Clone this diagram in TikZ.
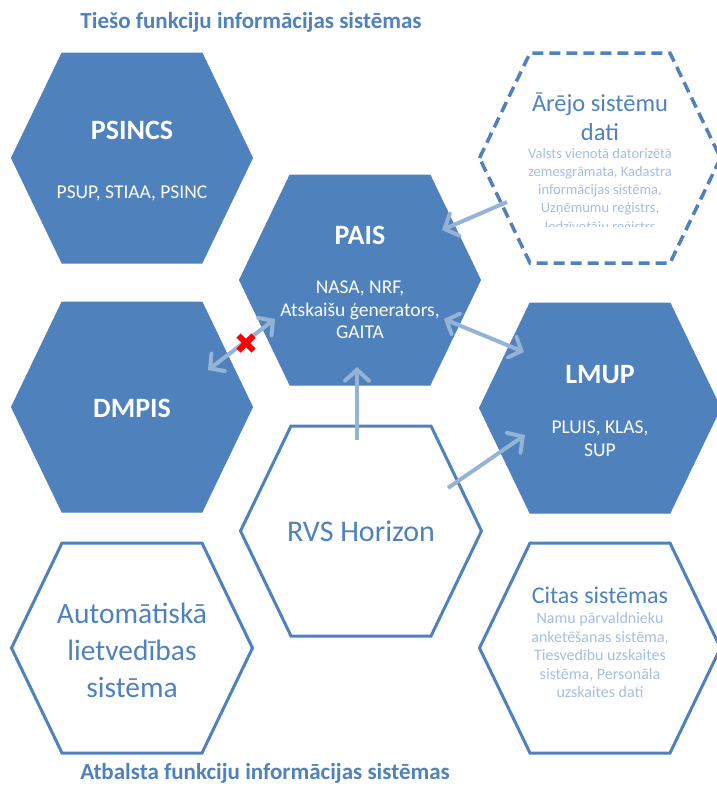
\documentclass[tikz,border=0pt]{standalone}
\usepackage{fontspec}
\setmainfont{Carlito}
\usetikzlibrary{arrows.meta,calc}
\definecolor{hexblue}{HTML}{4F81BD}
\definecolor{arrowc}{HTML}{95B3D7}
\definecolor{paletext}{HTML}{A5BFDF}
\newcommand\hexpath[2]{\path[#2] (#1) ++(-120.5,0) -- ++(50.5,-105) -- ++(140,0) -- ++(50.5,105) -- ++(-50.5,105) -- ++(-140,0) -- cycle;}
\newcommand\fs[2]{\fontsize{#1}{#2}\selectfont}
\tikzset{
  filledhex/.style={fill=hexblue, draw=hexblue, line width=1pt},
  outlinehex/.style={draw=hexblue, line width=3pt, line join=miter},
  dashhex/.style={draw=hexblue, line width=3.5pt, dash pattern=on 11pt off 6pt},
  wtitle/.style={text=white, font=\bfseries\fs{28}{30}, align=center, inner sep=0},
  wsub/.style={text=white, font=\fs{19.5}{22.5}, align=center, inner sep=0},
  btitle/.style={text=hexblue, align=center, inner sep=0},
  psub/.style={text=paletext, font=\fs{14.5}{18.2}, align=center, inner sep=0},
  conn/.style={draw=arrowc, line width=4pt, -{Straight Barb[length=11pt,width=24pt,line cap=round]}},
  biconn/.style={draw=arrowc, line width=4pt, {Straight Barb[length=10pt,width=22pt,line cap=round]}-{Straight Barb[length=10pt,width=22pt,line cap=round]}},
  redx/.style={draw=red, line width=6pt},
  caption/.style={text=hexblue, font=\bfseries\fs{23}{26}, inner sep=0}
}
\begin{document}
\begin{tikzpicture}[x=1pt,y=-1pt]
\useasboundingbox (0,0) rectangle (717,787);
% hexagon centres
\coordinate (psincs) at (132,158);
\coordinate (dmpis) at (132,407);
\coordinate (auto) at (132,648);
\coordinate (pais) at (360,280);
\coordinate (rvs) at (361,531);
\coordinate (ext) at (600,158);
\coordinate (lmup) at (600,408);
\coordinate (citas) at (600,648);

\hexpath{psincs}{filledhex}
\hexpath{dmpis}{filledhex}
\hexpath{pais}{filledhex}
\hexpath{lmup}{filledhex}
\hexpath{rvs}{outlinehex}
\hexpath{auto}{outlinehex}
\hexpath{citas}{outlinehex}
\hexpath{ext}{dashhex}

% captions
\node[caption] (topcap) at (251,22) {Tiešo funkciju informācijas sistēmas};
\node[caption] (botcap) at (265,773) {Atbalsta funkciju informācijas sistēmas};

% PSINCS
\node[wtitle] (psincsT) at (132,130) {PSINCS};
\node[wsub] (psincsS) at (132,193) {PSUP, STIAA, PSINC};
% DMPIS
\node[wtitle] (dmpisT) at (132,408) {DMPIS};
% PAIS
\node[wtitle] (paisT) at (360,235) {PAIS};
\node[wsub] (paisS) at (360,310) {NASA, NRF,\\Atskaišu ģenerators,\\GAITA};
% LMUP
\node[wtitle] (lmupT) at (600,375) {LMUP};
\node[wsub] (lmupS) at (600,438.5) {PLUIS, KLAS,\\SUP};
% RVS Horizon
\node[btitle, font=\fs{30}{32}] (rvsT) at (361,531) {RVS Horizon};
% Automatiska
\node[btitle, font=\fs{29.5}{37}] (autoT) at (132,650) {Automātiskā\\lietvedības\\sistēma};
% Arejo
\node[btitle, font=\fs{24.5}{29}] (extT) at (600,117) {Ārējo sistēmu\\dati};
\begin{scope}
\clip (470,140) rectangle (720,226.5);
\node[psub] (extS) at (600,191) {Valsts vienotā datorizētā\\zemesgrāmata, Kadastra\\informācijas sistēma,\\Uzņēmumu reģistrs,\\Iedzīvotāju reģistrs};
\end{scope}
% Citas
\node[btitle, font=\fs{24}{26}] (citasT) at (600,595) {Citas sistēmas};
\node[psub, font=\fs{16}{18.5}] (citasS) at (600,655) {Namu pārvaldnieku\\anketēšanas sistēma,\\Tiesvedību uzskaites\\sistēma, Personāla\\uzskaites dati};

% connector end points
\coordinate (extA) at (507,202);
\coordinate (paisA) at (442,230);
\coordinate (paisB) at (444,319);
\coordinate (lmupB) at (524,352);
\coordinate (rvsC) at (357,440);
\coordinate (paisC) at (357,367);
\coordinate (rvsD) at (448,488);
\coordinate (lmupD) at (525,435);
\coordinate (paisE) at (275,319);
\coordinate (dmpisE) at (208,370);
\coordinate (nox) at (246,343);

\draw[conn] (extA) -- (paisA);
\draw[biconn] (paisB) -- (lmupB);
\draw[conn] (rvsC) -- (paisC);
\draw[conn] (rvsD) -- (lmupD);
\draw[biconn] (dmpisE) -- (paisE);
\draw[redx] ($(nox)+(-7.5,-7.5)$) -- ($(nox)+(7.5,7.5)$);
\draw[redx] ($(nox)+(-7.5,7.5)$) -- ($(nox)+(7.5,-7.5)$);
\end{tikzpicture}
\end{document}
